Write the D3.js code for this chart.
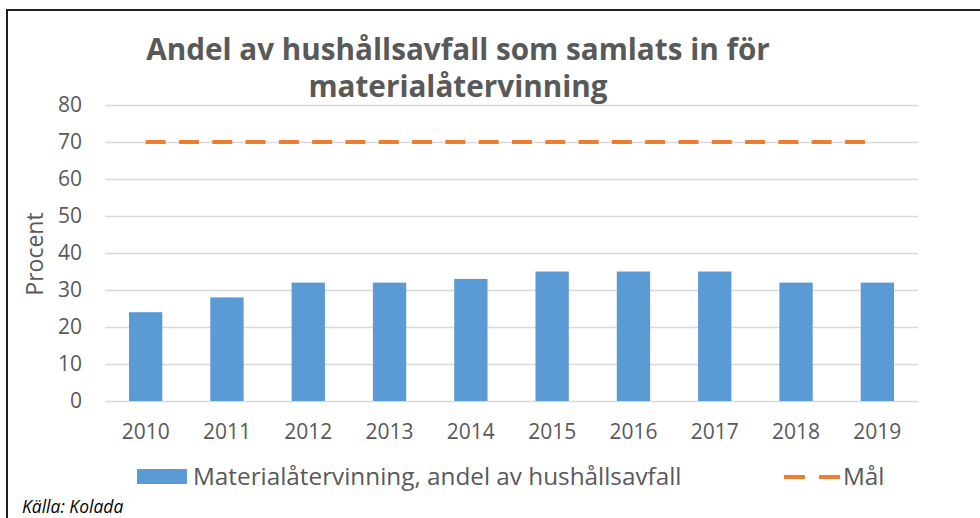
<!DOCTYPE html>
<html>
<head>
<meta charset="utf-8">
<script src="https://cdn.jsdelivr.net/npm/d3@7"></script>
<style>
  html, body { margin: 0; padding: 0; background: #fff; }
  svg { display: block; font-family: "Open Sans", sans-serif; }
</style>
</head>
<body>
<svg id="chart" width="980" height="518"></svg>
<script>
const years = ["2010", "2011", "2012", "2013", "2014", "2015", "2016", "2017", "2018", "2019"];
const andel = [24, 28, 32, 32, 33, 35, 35, 35, 32, 32];
const mal = [70, 70, 70, 70, 70, 70, 70, 70, 70, 70];
const yTicks = [0, 10, 20, 30, 40, 50, 60, 70, 80];
const titleLines = ["Andel av hushållsavfall som samlats in för", "materialåtervinning"];
const legendBar = "Materialåtervinning, andel av hushållsavfall";
const legendLine = "Mål";
const source = "Källa: Kolada";

const svg = d3.select("svg#chart");
const textColor = "#595959";

const margin = { top: 105, right: 62, bottom: 117, left: 105 };
const width = 980, height = 518;
const chartWidth = width - margin.left - margin.right;
const chartHeight = height - margin.top - margin.bottom;

// frame (only top and left edges are inside the picture)
svg.append("rect")
	.attr("x", 7).attr("y", 10)
	.attr("width", 1000).attr("height", 600)
	.attr("fill", "none")
	.attr("stroke", "#1e1e1e")
	.attr("stroke-width", 2);

// title
svg.append("g")
	.selectAll("text")
	.data(titleLines)
	.join("text")
	.attr("x", 458)
	.attr("y", (d, i) => 60 + i * 37)
	.attr("text-anchor", "middle")
	.attr("fill", textColor)
	.style("font-size", "29.7px")
	.style("font-weight", 700)
	.text((d) => d);

const chartArea = svg.append("g")
	.attr("transform", `translate(${margin.left},${margin.top})`);

const x = d3.scaleBand(years, [0, chartWidth]).paddingInner(0.59).paddingOuter(0.295);
const xc = d3.scalePoint(years, [0, chartWidth]).padding(0.5);
const y = d3.scaleLinear([0, 80], [chartHeight, 0]);

// grid
chartArea.append("g")
	.attr("class", "y grid")
	.call(d3.axisLeft(y).tickValues(yTicks).tickSize(-chartWidth).tickFormat(""))
	.call((g) => g.select(".domain").remove())
	.call((g) => g.selectAll("line").attr("stroke", "#d9d9d9").attr("stroke-width", 1.6));

// y labels
chartArea.append("g")
	.attr("class", "y axis")
	.call(d3.axisLeft(y).tickValues(yTicks).tickSize(0).tickPadding(23))
	.call((g) => g.select(".domain").remove())
	.call((g) => g.selectAll("text")
		.attr("fill", textColor)
		.style("font-size", "21px")
		.style("font-family", "'Open Sans', sans-serif"));

// x labels
chartArea.append("g")
	.attr("class", "x axis")
	.attr("transform", `translate(0,${chartHeight})`)
	.call(d3.axisBottom(x).tickSize(0).tickPadding(23))
	.call((g) => g.select(".domain").remove())
	.call((g) => g.selectAll("text")
		.attr("fill", textColor)
		.style("font-size", "21px")
		.style("font-family", "'Open Sans', sans-serif"));

// bars
chartArea.append("g")
	.selectAll("rect")
	.data(years.map((yr, i) => ({ year: yr, value: andel[i] })))
	.join("rect")
	.attr("x", (d) => x(d.year))
	.attr("y", (d) => y(d.value))
	.attr("width", x.bandwidth())
	.attr("height", (d) => chartHeight - y(d.value))
	.attr("fill", "#5b9bd5");

// target line
const line = d3.line()
	.x((d) => xc(d.year))
	.y((d) => y(d.value));

chartArea.append("path")
	.datum(years.map((yr, i) => ({ year: yr, value: mal[i] })))
	.attr("d", line)
	.attr("fill", "none")
	.attr("stroke", "#ed7d31")
	.attr("stroke-width", 4)
	.attr("stroke-dasharray", "20,13.3");

// y title
svg.append("text")
	.attr("transform", "translate(43,254) rotate(-90)")
	.attr("text-anchor", "middle")
	.attr("fill", textColor)
	.style("font-size", "23px")
	.text("Procent");

// legend
const legend = svg.append("g");
legend.append("rect")
	.attr("x", 137).attr("y", 469)
	.attr("width", 50).attr("height", 15)
	.attr("fill", "#5b9bd5");
legend.append("text")
	.attr("x", 193).attr("y", 485)
	.attr("fill", textColor)
	.style("font-size", "24.3px")
	.text(legendBar);
legend.append("line")
	.attr("x1", 784).attr("x2", 840)
	.attr("y1", 477).attr("y2", 477)
	.attr("stroke", "#ed7d31")
	.attr("stroke-width", 4)
	.attr("stroke-dasharray", "21,14");
legend.append("text")
	.attr("x", 843).attr("y", 485)
	.attr("fill", textColor)
	.style("font-size", "24.3px")
	.text(legendLine);

// source
svg.append("text")
	.attr("x", 22).attr("y", 513)
	.attr("fill", "#000")
	.style("font-size", "17.5px")
	.style("font-style", "italic")
	.text(source);
</script>
</body>
</html>
